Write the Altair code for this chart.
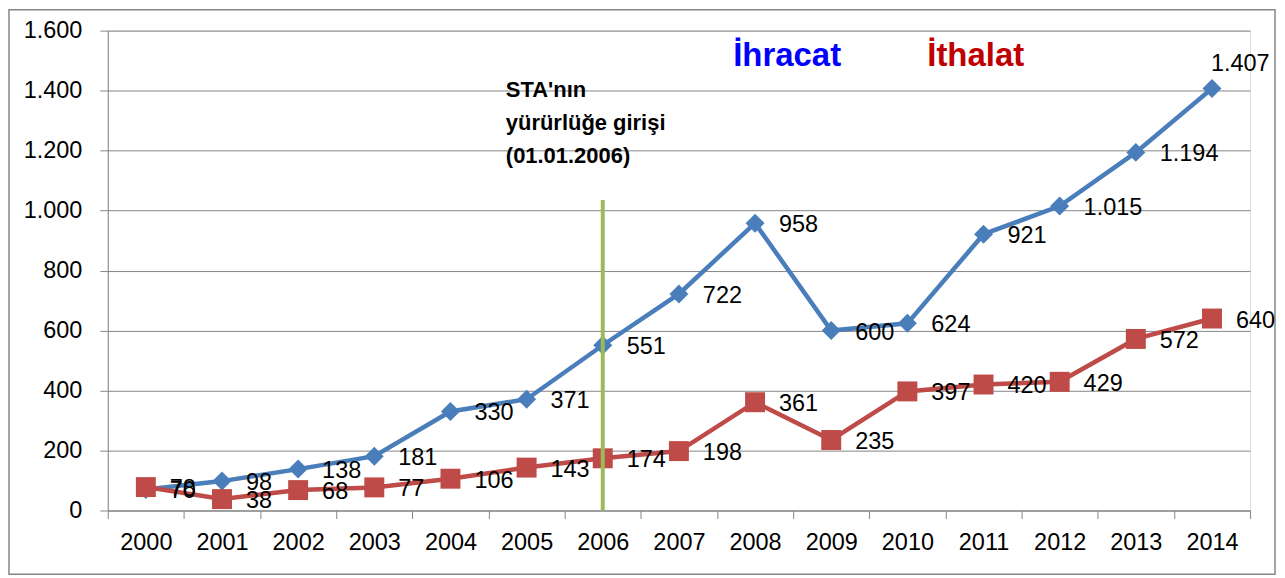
import altair as alt
import pandas as pd

years = ["2000", "2001", "2002", "2003", "2004", "2005", "2006", "2007",
         "2008", "2009", "2010", "2011", "2012", "2013", "2014"]
ihracat = [70, 98, 138, 181, 330, 371, 551, 722, 958, 600, 624, 921, 1015, 1194, 1407]
ithalat = [78, 38, 68, 77, 106, 143, 174, 198, 361, 235, 397, 420, 429, 572, 640]
series_names = ["İhracat", "İthalat"]
series_colors = ["#4A7EBB", "#BE4B48"]
sta_year = ["2006"]
sta_top = [1035]
sta_text = ["STA'nın", "yürürlüğe girişi", "(01.01.2006)"]

FONT = "Liberation Sans"
GRAY = "#868686"

df = pd.DataFrame({
    "year": years * 2,
    "value": ihracat + ithalat,
    "series": [series_names[0]] * len(years) + [series_names[1]] * len(years),
})

xenc = alt.X("year:O", title=None,
             scale=alt.Scale(domain=years, paddingInner=0, paddingOuter=0),
             axis=alt.Axis(labelAngle=0, labelFont=FONT, labelFontSize=23.5, labelColor="#000",
                           tickBand="extent", tickSize=8, tickColor=GRAY, domainColor=GRAY,
                           labelPadding=12, grid=False))
yenc = alt.Y("value:Q", title=None,
             scale=alt.Scale(domain=[0, 1600], nice=False),
             axis=alt.Axis(values=list(range(0, 1601, 200)), labelFont=FONT, labelFontSize=23.5,
                           labelColor="#000", tickSize=8, tickColor=GRAY, domainColor=GRAY,
                           gridColor=GRAY, grid=True, labelPadding=18,
                           labelExpr="replace(format(datum.value, ','), ',', '.')"))

base = alt.Chart(df)
color = alt.Color("series:N", scale=alt.Scale(domain=series_names, range=series_colors), legend=None)

def series_layers(name, shape, size):
    d = base.transform_filter(alt.datum.series == name)
    line = d.mark_line(strokeWidth=4.5).encode(x=xenc, y=yenc, color=color)
    pts = d.mark_point(shape=shape, size=size, filled=True, opacity=1).encode(x=xenc, y=yenc, color=color)
    return line + pts

exp_layers = series_layers(series_names[0], "diamond", 361)
imp_layers = series_layers(series_names[1], "square", 400)

rule_df = pd.DataFrame({"year": sta_year, "top": sta_top, "bottom": [0]})
rule = alt.Chart(rule_df).mark_rule(color="#9BBB59", strokeWidth=4).encode(
    x=alt.X("year:O", scale=alt.Scale(domain=years, paddingInner=0, paddingOuter=0)),
    y=alt.Y("top:Q"), y2="bottom:Q")

lab = base.transform_calculate(
    lbl="replace(format(datum.value, ','), ',', '.')"
)
labels = lab.transform_filter(
    ~((alt.datum.series == series_names[0]) & (alt.datum.year == "2014"))
).mark_text(align="left", baseline="middle", dx=24, dy=2, font=FONT, fontSize=23.5, color="#000").encode(
    x=xenc, y=yenc, text="lbl:N")
label_last = lab.transform_filter(
    (alt.datum.series == series_names[0]) & (alt.datum.year == "2014")
).mark_text(align="left", baseline="middle", dx=-1, dy=-25, font=FONT, fontSize=23.5, color="#000").encode(
    x=xenc, y=yenc, text="lbl:N")

one = alt.Data(values=[{}])
t_exp = alt.Chart(one).mark_text(align="center", baseline="alphabetic", font=FONT, fontSize=33,
                                 fontWeight="bold", color="#0000FF").encode(
    x=alt.value(681), y=alt.value(35), text=alt.value(series_names[0]))
t_imp = alt.Chart(one).mark_text(align="center", baseline="alphabetic", font=FONT, fontSize=33,
                                 fontWeight="bold", color="#C00000").encode(
    x=alt.value(870), y=alt.value(35), text=alt.value(series_names[1]))
t_sta = alt.Chart(one).mark_text(align="left", baseline="alphabetic", font=FONT, fontSize=22,
                                 fontWeight="bold", color="#000", lineHeight=33).encode(
    x=alt.value(399), y=alt.value(67), text=alt.value(sta_text))
border = alt.Chart(one).mark_rect(filled=False, stroke=GRAY, strokeWidth=1.5).encode(
    x=alt.value(-99), x2=alt.value(1170), y=alt.value(-21), y2=alt.value(545))

chart = alt.layer(
    border, exp_layers, imp_layers, rule, labels, label_last, t_exp, t_imp, t_sta
).properties(
    width=1145, height=481,
    autosize=alt.AutoSizeParams(type="none"),
    padding={"left": 100, "top": 22, "right": 27, "bottom": 66},
).configure_view(stroke=None).configure(background="white")

chart.save("out.html", embed_options={"renderer": "svg", "actions": False})
